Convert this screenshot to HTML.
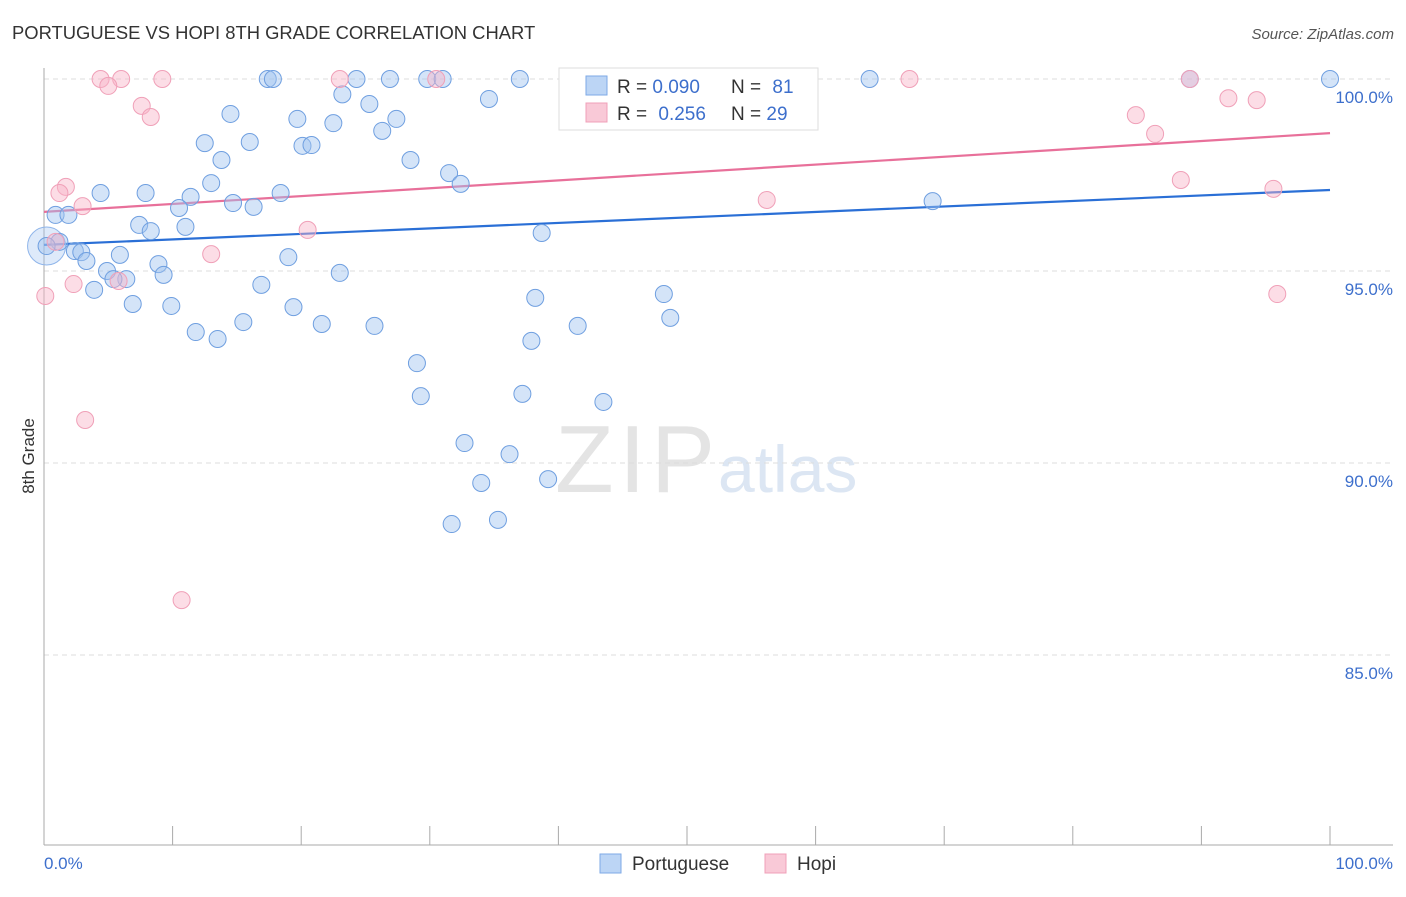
<!DOCTYPE html>
<html><head><meta charset="utf-8"><style>
body{margin:0;background:#fff;font-family:"Liberation Sans",sans-serif}
svg text{font-family:"Liberation Sans",sans-serif}
</style></head><body>
<svg id="chart" width="1406" height="892" viewBox="0 0 1406 892" xmlns="http://www.w3.org/2000/svg">
<text x="12" y="39" font-size="18.4" fill="#333">PORTUGUESE VS HOPI 8TH GRADE CORRELATION CHART</text>
<text x="1394" y="39" font-size="15" fill="#555" text-anchor="end" font-style="italic">Source: ZipAtlas.com</text>
<text x="555" y="492" font-size="96" fill="#e4e4e4" font-family="Liberation Serif,serif" textLength="160">ZIP</text>
<text x="718" y="492" font-size="66" fill="#dce6f3">atlas</text>
<g id="grid"></g>
<line x1="44" y1="68" x2="44" y2="845" stroke="#aaa"/>
<line x1="44" y1="845" x2="1393" y2="845" stroke="#aaa"/>
<text transform="translate(34,456) rotate(-90)" font-size="17" fill="#333" text-anchor="middle">8th Grade</text>
<text x="44" y="869" font-size="17" fill="#3d6fcc">0.0%</text>
<text x="1393" y="869" font-size="17" fill="#3d6fcc" text-anchor="end">100.0%</text>
<g id="trends"></g>
<g id="points"></g>
<g>
<rect x="559" y="68" width="259" height="62" fill="#fff" stroke="#ddd"/>
<rect x="586" y="76" width="21" height="19" fill="#bcd5f5" stroke="#7ea9e6"/>
<rect x="586" y="103" width="21" height="19" fill="#f9c9d7" stroke="#f0a0b8"/>
<text x="617" y="93" font-size="19" fill="#333">R = <tspan fill="#3d6fcc">0.090</tspan></text>
<text x="731" y="93" font-size="19" fill="#333">N = <tspan fill="#3d6fcc" dx="6">81</tspan></text>
<text x="617" y="120" font-size="19" fill="#333">R = <tspan fill="#3d6fcc" dx="6">0.256</tspan></text>
<text x="731" y="120" font-size="19" fill="#333">N = <tspan fill="#3d6fcc">29</tspan></text>
</g>
<g>
<rect x="600" y="854" width="21" height="19" fill="#bcd5f5" stroke="#7ea9e6"/>
<text x="632" y="870" font-size="19" fill="#333">Portuguese</text>
<rect x="765" y="854" width="21" height="19" fill="#f9c9d7" stroke="#f0a0b8"/>
<text x="797" y="870" font-size="19" fill="#333">Hopi</text>
</g>
</svg>
<script>
const yTicks=[100,95,90,85];
const yTickLabels=["100.0%","95.0%","90.0%","85.0%"];
const xTicks=[0,10,20,30,40,50,60,70,80,90,100];
const portX=[17.4,17.8,24.3,26.9,29.8,31.0,37.0,45.6,51.3,64.2,89.1,100,23.2,34.6,25.3,14.5,19.7,27.4,22.5,26.3,12.5,16.0,20.1,20.8,13.8,28.5,31.5,13.0,32.4,4.4,7.9,18.4,11.4,14.7,10.5,16.3,69.1,0.9,1.9,7.4,11.0,8.3,38.7,1.2,0.2,2.4,2.9,5.9,19.0,3.3,8.9,4.9,9.3,23.0,6.4,5.4,16.9,3.9,38.2,48.2,6.9,9.9,19.4,15.5,21.6,25.7,41.5,48.7,11.8,13.5,37.9,29.0,29.3,37.2,43.5,32.7,36.2,39.2,34.0,31.7,35.3];
const portY=[100,100,100,100,100,100,100,100,100,100,100,100,99.6,99.48,99.35,99.09,98.96,98.96,98.85,98.65,98.33,98.36,98.26,98.28,97.89,97.89,97.55,97.29,97.27,97.03,97.03,97.03,96.93,96.77,96.64,96.67,96.82,96.46,96.46,96.2,96.15,96.04,95.99,95.76,95.65,95.52,95.49,95.42,95.36,95.26,95.18,95.0,94.9,94.95,94.79,94.79,94.64,94.51,94.3,94.4,94.14,94.09,94.06,93.67,93.62,93.57,93.57,93.78,93.41,93.23,93.18,92.6,91.74,91.8,91.59,90.52,90.23,89.58,89.48,88.41,88.52];
const hopiX=[4.4,6.0,9.2,23.0,30.5,67.3,89.1,5.0,7.6,8.3,92.1,94.3,84.9,86.4,1.7,1.2,3.0,56.2,88.4,95.6,20.5,0.9,13.0,5.8,2.3,0.1,95.9,3.2,10.7];
const hopiY=[100,100,100,100,100,100,100,99.82,99.3,99.01,99.5,99.45,99.06,98.57,97.19,97.03,96.69,96.85,97.37,97.14,96.07,95.76,95.44,94.74,94.66,94.35,94.4,91.12,86.43];
const trendX=[0,100];
const portTrend=[95.68,97.11];
const hopiTrend=[96.54,98.59];
const X0=44,X1=1330,Y100=79,PX_PER=38.4;
const sx=v=>X0+(X1-X0)*v/100;
const sy=v=>Y100+(100-v)*PX_PER;
const NS="http://www.w3.org/2000/svg";
function mk(t,a,p){const e=document.createElementNS(NS,t);for(const k in a)e.setAttribute(k,a[k]);p.appendChild(e);return e;}
const grid=document.getElementById('grid');
yTicks.forEach((t,i)=>{
 const l=mk('line',{x1:44,x2:1393,y1:sy(t),y2:sy(t),stroke:'#ddd','stroke-dasharray':'5,4'},grid);
 
 
 const tx=mk('text',{x:1393,y:sy(t)+24,'font-size':17,fill:'#3d6fcc','text-anchor':'end'},grid);
 tx.textContent=yTickLabels[i];
 
 
});
xTicks.forEach(t=>{
 const l=mk('line',{x1:sx(t),x2:sx(t),y1:826,y2:845,stroke:'#aaa'},grid);
 
 
});
const tr=document.getElementById('trends');
const bl=mk('line',{x1:sx(trendX[0]),y1:sy(portTrend[0]),x2:sx(trendX[1]),y2:sy(portTrend[1]),stroke:'#2a6fd6','stroke-width':2.2},tr);


const pl=mk('line',{x1:sx(trendX[0]),y1:sy(hopiTrend[0]),x2:sx(trendX[1]),y2:sy(hopiTrend[1]),stroke:'#e8709a','stroke-width':2.2},tr);


const pts=document.getElementById('points');
const big=mk('circle',{cx:sx(0.2),cy:sy(95.65),r:19,fill:'rgba(160,195,240,0.35)',stroke:'#8fb5ea','stroke-width':1},pts);


portX.forEach((x,i)=>{
 const c=mk('circle',{cx:sx(x),cy:sy(portY[i]),r:8.5,fill:'rgba(160,195,240,0.45)',stroke:'#6f9fe0','stroke-width':1},pts);
 
 
});
hopiX.forEach((x,i)=>{
 const c=mk('circle',{cx:sx(x),cy:sy(hopiY[i]),r:8.5,fill:'rgba(248,180,200,0.45)',stroke:'#f0a0b8','stroke-width':1},pts);
 
 
});
</script>
</body></html>
